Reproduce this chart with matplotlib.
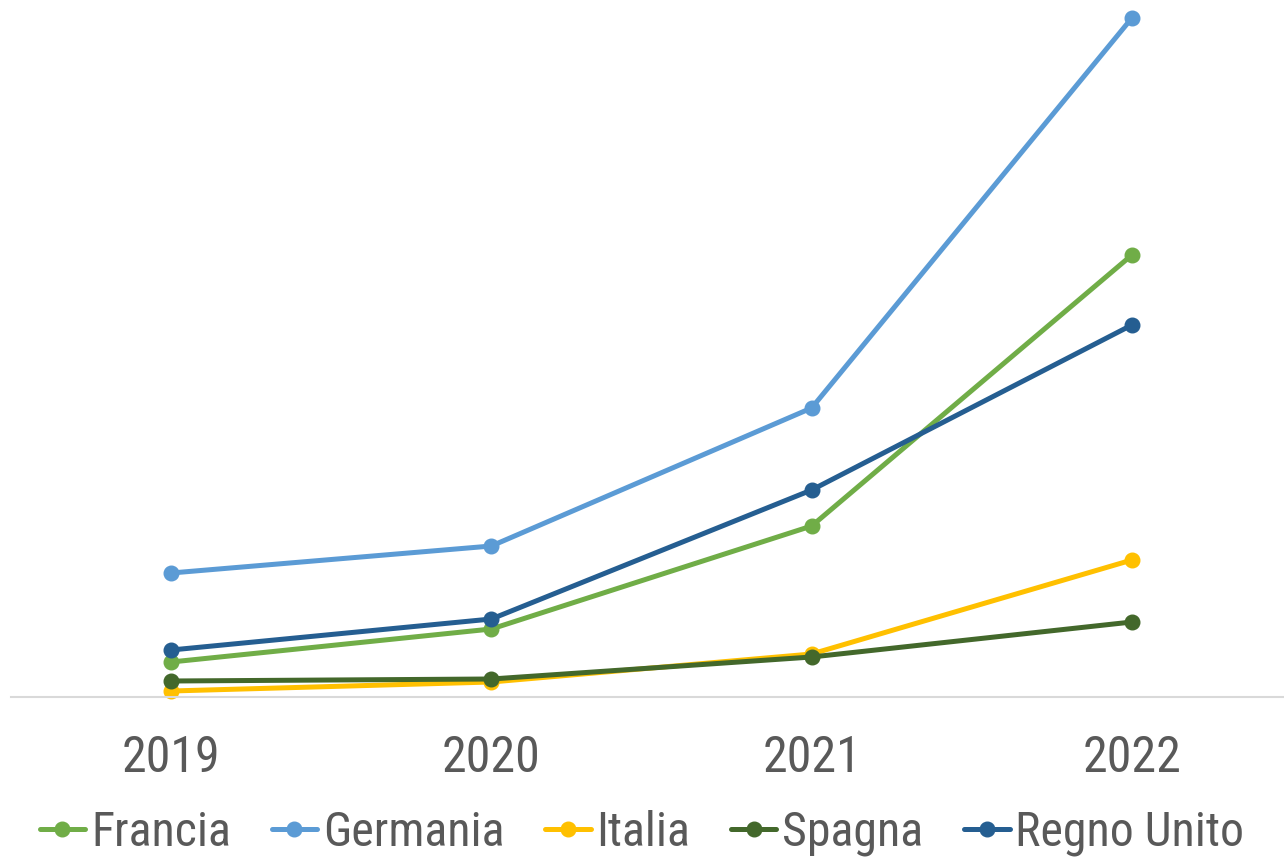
import matplotlib.pyplot as plt
from matplotlib import font_manager

years = ["2019", "2020", "2021", "2022"]
francia = [35, 68, 171, 442]
germania = [124, 151, 289, 679]
italia = [6, 15, 43, 137]
spagna = [16, 18, 40, 75]
regno_unito = [47, 78, 207, 372]

# narrow font to look like the office theme font
names = set(f.name for f in font_manager.fontManager.ttflist)
fam = "DejaVu Sans"
for cand in ["Roboto Condensed", "Archivo Narrow", "PT Sans Narrow", "Liberation Sans Narrow"]:
    if cand in names:
        fam = cand
        break
plt.rcParams['font.family'] = [fam, 'DejaVu Sans']
tick_fs = 36 if fam != "DejaVu Sans" else 30
leg_fs = 34.5 if fam != "DejaVu Sans" else 26

fig = plt.figure(figsize=(12.84, 8.59), dpi=100)
ax = fig.add_axes([11 / 1284, 1 - 697 / 859, 1281 / 1284, 697 / 859])

series = [("Francia", francia, "#70AD47"),
          ("Germania", germania, "#5B9BD5"),
          ("Italia", italia, "#FFC000"),
          ("Spagna", spagna, "#43682B"),
          ("Regno Unito", regno_unito, "#255E91")]

x = range(len(years))
for name, vals, col in series:
    ax.plot(x, vals, color=col, lw=3.6, marker="o", ms=10.5, label=name,
            solid_capstyle="round", clip_on=False)

ax.set_xlim(-0.5, 3.5)
ax.set_ylim(0, 697)
ax.set_xticks(list(x))
ax.set_xticklabels(years, fontsize=tick_fs, color="#595959")
ax.tick_params(axis="x", length=0, pad=27)
ax.set_yticks([])
for s in ["top", "right", "left"]:
    ax.spines[s].set_visible(False)
ax.spines["bottom"].set_color("#D9D9D9")
ax.spines["bottom"].set_linewidth(1.5)

leg = fig.legend(loc="center", bbox_to_anchor=(0.5, 1 - 833 / 859), ncol=5,
                 frameon=False, fontsize=leg_fs, handlelength=0.95, handletextpad=0.12,
                 columnspacing=0.85, labelcolor="#595959")

fig.savefig("out.png", dpi=100)
